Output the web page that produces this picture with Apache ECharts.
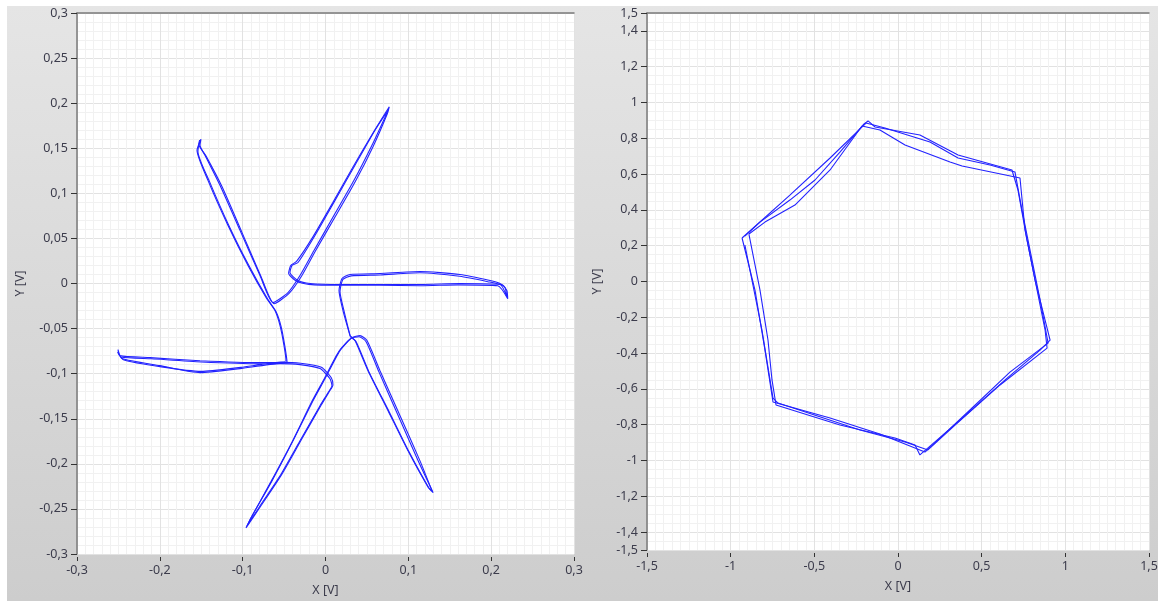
<!DOCTYPE html>
<html>
<head>
<meta charset="utf-8">
<script src="https://cdn.jsdelivr.net/npm/echarts@6/dist/echarts.min.js"></script>
<style>
  html, body { margin: 0; padding: 0; background: #fff; }
  #chart {
    width: 1158px; height: 601px;
    background: linear-gradient(#e5e5e5, #cdcdcd) no-repeat 7px 6px / 1151px 595px;
  }
</style>
</head>
<body>
<div id="chart"></div>
<script>
// left plot: six-armed trace, two passes (X [V], Y [V])
var starPass1 = [
  [0.0296,-0.0578],[0.0211,-0.030],[0.0163,-0.0078],[0.0199,0.0056],[0.0296,0.010],[0.0658,0.0111],[0.1141,0.0133],[0.1624,0.010],[0.1986,0.0033],[0.2107,0],[0.2167,-0.0044],[0.219,-0.015],
  [0.2107,-0.0011],[0.1624,0],[0.1141,-0.0011],[0.0658,-0.0011],[0.0175,-0.0011],[-0.0187,0],[-0.0332,0.0033],[-0.0429,0.0122],[-0.0404,0.020],[-0.0332,0.0233],
  [-0.0127,0.0533],[0.0115,0.0922],[0.0356,0.1311],[0.0598,0.170],[0.0755,0.1922],
  [0.0730,0.1867],[0.0561,0.1533],[0.0344,0.1144],[0.0103,0.0756],[-0.0139,0.0367],[-0.0308,0.0089],[-0.0453,-0.010],[-0.0634,-0.0211],
  [-0.0791,0.0089],[-0.1032,0.0589],[-0.1274,0.1089],[-0.1455,0.1422],[-0.1515,0.1533],[-0.1503,0.160],
  [-0.1551,0.1478],[-0.1419,0.1144],[-0.1177,0.0644],[-0.0936,0.020],[-0.0718,-0.0156],[-0.0610,-0.030],
  [-0.0549,-0.0467],[-0.0501,-0.0689],[-0.0477,-0.0856],
  [-0.0791,-0.0878],[-0.1515,-0.0856],[-0.2119,-0.0822],[-0.2481,-0.080],[-0.2505,-0.0733],
  [-0.2457,-0.0833],[-0.1998,-0.0911],[-0.1515,-0.0989],[-0.1032,-0.0944],[-0.0549,-0.0889],[-0.0308,-0.090],[-0.0066,-0.0944],[0.0054,-0.1056],[0.0078,-0.1133],[0.0030,-0.1211],
  [-0.0066,-0.1356],[-0.0308,-0.1744],[-0.0549,-0.2133],[-0.0791,-0.2467],[-0.0948,-0.2689],
  [-0.0887,-0.2578],[-0.0646,-0.2189],[-0.0392,-0.1744],[-0.0151,-0.130],[-0.0006,-0.1056],[0.0175,-0.0744],[0.0320,-0.060],
  [0.0417,-0.0578],[0.0501,-0.0633],[0.0658,-0.0967],[0.0900,-0.1467],[0.1141,-0.1967],[0.1286,-0.230],
  [0.1237,-0.2256],[0.0996,-0.1856],[0.0755,-0.1411],[0.0513,-0.0967],[0.0356,-0.0633],[0.0296,-0.0578]
];
var starPass2 = [
  [0.0300,-0.0590],[0.0225,-0.031],[0.0175,-0.009],[0.0210,0.0045],[0.0310,0.0085],[0.0660,0.0095],[0.1140,0.0120],[0.1620,0.0080],[0.1960,0.0020],[0.2140,-0.002],[0.2190,-0.0080],[0.2200,-0.0170],
  [0.2080,-0.0025],[0.1600,-0.0015],[0.1150,-0.0025],[0.0650,-0.0020],[0.0170,-0.0020],[-0.0200,-0.001],[-0.0350,0.0025],[-0.0445,0.0115],[-0.0420,0.0200],[-0.0350,0.0245],
  [-0.0150,0.0520],[0.0090,0.0900],[0.0330,0.1290],[0.0580,0.1680],[0.0770,0.1960],
  [0.0745,0.1880],[0.0575,0.1520],[0.0360,0.1130],[0.0120,0.0745],[-0.0125,0.0355],[-0.0290,0.0080],[-0.0440,-0.0110],[-0.0620,-0.0225],
  [-0.0775,0.0070],[-0.1010,0.0570],[-0.1250,0.1075],[-0.1440,0.1410],[-0.1530,0.1545],[-0.1520,0.1590],
  [-0.1540,0.1465],[-0.1400,0.1130],[-0.1160,0.0630],[-0.0920,0.0190],[-0.0700,-0.0170],[-0.0595,-0.0315],
  [-0.0535,-0.0480],[-0.0490,-0.0700],[-0.0465,-0.0870],
  [-0.0780,-0.0890],[-0.1500,-0.0870],[-0.2100,-0.0835],[-0.2470,-0.0815],[-0.2510,-0.0760],
  [-0.2440,-0.0845],[-0.1980,-0.0925],[-0.1500,-0.0975],[-0.1020,-0.0930],[-0.0540,-0.0875],[-0.0300,-0.0885],[-0.0050,-0.0930],[0.0070,-0.1045],[0.0090,-0.1125],[0.0045,-0.1200],
  [-0.0050,-0.1345],[-0.0290,-0.1730],[-0.0530,-0.2120],[-0.0775,-0.2460],[-0.0960,-0.2710],
  [-0.0900,-0.2600],[-0.0660,-0.2200],[-0.0405,-0.1760],[-0.0165,-0.1310],[-0.0020,-0.1065],[0.0160,-0.0755],[0.0305,-0.0610],
  [0.0405,-0.0590],[0.0490,-0.0645],[0.0645,-0.0980],[0.0885,-0.1480],[0.1125,-0.1980],[0.1300,-0.2320],
  [0.1250,-0.2270],[0.1010,-0.1870],[0.0770,-0.1425],[0.0525,-0.0980],[0.0370,-0.0645],[0.0300,-0.0590]
];

// right plot: hexagon trace, three passes
var hexPass1 = [
  [-0.932,0.243],[-0.646,0.483],[-0.406,0.690],[-0.191,0.885],[-0.078,0.858],[0.191,0.779],[0.359,0.690],[0.550,0.651],[0.699,0.612],
  [0.741,0.399],[0.789,0.176],[0.849,-0.103],[0.897,-0.344],[0.669,-0.506],[0.430,-0.718],[0.161,-0.953],
  [-0.108,-0.852],[-0.406,-0.763],[-0.747,-0.673],[-0.795,-0.383],[-0.855,-0.047],[-0.932,0.243]
];
var hexPass2 = [
  [-0.891,0.265],[-0.795,0.332],[-0.616,0.427],[-0.406,0.623],[-0.215,0.869],[-0.108,0.846],[0.042,0.763],[0.311,0.668],[0.383,0.645],[0.729,0.578],
  [0.759,0.288],[0.819,0.008],[0.909,-0.327],[0.849,-0.383],[0.640,-0.550],[0.371,-0.774],[0.131,-0.969],
  [0.102,-0.913],[-0.018,-0.874],[-0.347,-0.802],[-0.729,-0.690],[-0.753,-0.550],[-0.777,-0.327],[-0.825,-0.047],[-0.891,0.265]
];
var hexPass3 = [
  [-0.915,0.254],[-0.825,0.332],[-0.646,0.455],[-0.496,0.567],[-0.347,0.723],[-0.203,0.880],[-0.179,0.897],[-0.137,0.863],[0.131,0.818],[0.359,0.707],[0.681,0.623],
  [0.717,0.511],[0.771,0.232],[0.879,-0.271],[0.891,-0.372],[0.610,-0.578],[0.341,-0.802],[0.179,-0.941],
  [0.042,-0.897],[-0.227,-0.830],[-0.717,-0.679],[-0.747,-0.651],[-0.813,-0.271],[-0.915,0.204]
];

var myChart = echarts.init(document.getElementById('chart'));

var labelFont = { fontFamily: 'Noto Sans', fontSize: 12.5, color: '#3c3c4c' };
var borderLine = { show: true, onZero: false, lineStyle: { color: '#7a7a7a', width: 1.5 } };
function comma(v) {
  return String(+(+v).toFixed(3)).replace('.', ',');
}
function valueAxis(grid, min, max, interval, minorSplit, isY, extra) {
  var ax = {
    type: 'value', gridIndex: grid, min: min, max: max,
    position: isY ? 'left' : 'bottom',
    axisLine: isY ? borderLine : { show: false, onZero: false },
    axisTick: { show: true, length: isY ? 6 : 4, lineStyle: { color: '#333', width: 1 } },
    axisLabel: Object.assign({ formatter: comma, margin: isY ? 9 : 7, showMinLabel: true, showMaxLabel: true }, labelFont),
    splitLine: { show: true, lineStyle: { color: '#e2e2e2', width: 1 } },
    minorTick: { show: false, splitNumber: minorSplit },
    minorSplitLine: { show: true, lineStyle: { color: '#f1f1f1', width: 1 } },
    nameLocation: 'middle',
    nameTextStyle: { fontFamily: 'Noto Sans', fontSize: 12.5, color: '#3c3c4c' }
  };
  if (interval) { ax.interval = interval; }
  if (!isY) { ax.offset = 3; }
  return Object.assign(ax, extra || {});
}
// only draws the fine grid of a panel
function fineGrid(grid, min, max, interval) {
  return {
    type: 'value', gridIndex: grid, position: 'left', min: min, max: max, interval: interval,
    axisLine: { show: false, onZero: false }, axisTick: { show: false }, axisLabel: { show: false },
    splitLine: { show: true, lineStyle: { color: '#f1f1f1', width: 1 } }
  };
}
function topBorder(grid) {
  return {
    type: 'value', gridIndex: grid, position: 'top', min: 0, max: 1,
    axisLine: borderLine, axisTick: { show: false }, axisLabel: { show: false }, splitLine: { show: false }
  };
}
function trace(data, xi, yi, smooth) {
  return {
    type: 'line', data: data, xAxisIndex: xi, yAxisIndex: yi,
    showSymbol: false, symbol: 'none', smooth: smooth, silent: true,
    lineStyle: { color: '#2222ff', width: 1.1 }
  };
}

var option = {
  animation: false,
  grid: [
    { left: 77, top: 13, width: 497, height: 541, show: true, backgroundColor: '#fff', borderWidth: 0, outerBoundsMode: 'none' },
    { left: 647, top: 13, width: 502, height: 537, show: true, backgroundColor: '#fff', borderWidth: 0, outerBoundsMode: 'none' }
  ],
  xAxis: [
    valueAxis(0, -0.3, 0.3, 0.1, 10, false, { name: 'X [V]', nameGap: 27 }),
    valueAxis(1, -1.5, 1.5, 0.5, 10, false, { name: 'X [V]', nameGap: 27 }),
    topBorder(0),
    topBorder(1)
  ],
  yAxis: [
    valueAxis(0, -0.3, 0.3, 0.05, 5, true, { name: 'Y [V]', nameGap: 50 }),
    fineGrid(1, -1.5, 1.5, 0.05),
    valueAxis(1, -1.5, 1.5, null, 4, true, {
      name: 'Y [V]', nameGap: 43, splitNumber: 15,
      minorSplitLine: { show: false }
    })
  ],
  series: [
    trace(starPass1, 0, 0, 0.2),
    trace(starPass2, 0, 0, 0.2),
    trace(hexPass1, 1, 2, false),
    trace(hexPass2, 1, 2, false),
    trace(hexPass3, 1, 2, false)
  ]
};
myChart.setOption(option);
</script>
</body>
</html>
